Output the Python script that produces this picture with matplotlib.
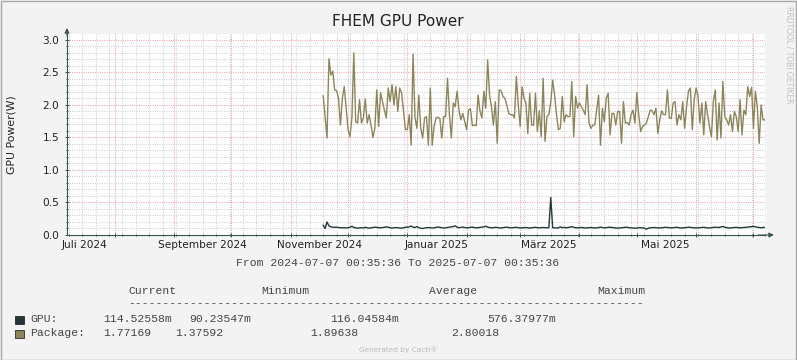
import matplotlib
matplotlib.use("Agg")
import matplotlib.pyplot as plt
import matplotlib.dates as mdates
from matplotlib.ticker import MultipleLocator, FormatStrFormatter
from matplotlib.patches import Rectangle
import pandas as pd

# Zeitraum des Graphen
t_start = pd.Timestamp("2024-07-07 00:35:36")
t_end = pd.Timestamp("2025-07-07 00:35:36")
first_sample = "2024-11-18"

# Package (W), Tageswerte
package_w = [
    2.14, 1.82, 1.49, 2.71, 2.46, 2.52, 2.23, 2.22, 2.10, 1.69, 2.10, 2.28, 1.95, 1.62, 1.51, 1.80,
    2.80, 1.74, 1.72, 2.08, 1.72, 1.80, 2.09, 1.72, 1.85, 1.69, 1.50, 1.64, 2.23, 1.67, 2.19, 2.05,
    1.92, 1.80, 2.26, 2.05, 2.31, 2.00, 2.28, 1.90, 2.26, 2.18, 1.90, 1.62, 1.62, 1.85, 1.38, 2.78,
    1.80, 1.64, 2.15, 1.64, 1.49, 1.80, 1.82, 1.38, 2.26,
    1.38, 1.67, 1.80, 1.81, 1.79, 1.49, 1.82, 1.82, 2.41, 1.85, 1.49, 2.03, 1.97, 2.21, 1.92, 1.77,
    1.87, 1.74, 1.62, 1.92, 1.94, 1.68, 1.69, 1.68, 2.15, 1.90, 1.80, 2.21, 1.95, 2.69, 2.15, 1.97,
    1.69, 2.05, 1.41, 2.23, 2.22, 2.13, 2.10, 2.00, 1.87, 1.85, 1.85, 1.80, 2.44, 2.00, 1.67, 2.28,
    2.10, 2.03, 1.56, 2.18, 1.69, 1.69, 2.18, 1.59, 1.91, 1.51,
    2.41, 1.44, 1.82, 1.85, 2.05, 2.38, 2.15, 1.85, 1.62, 1.64, 2.13, 1.74, 1.85, 1.82, 1.82, 2.36,
    1.51, 2.13, 1.95, 2.03, 1.97, 1.92, 1.85, 2.31, 1.72, 1.64, 1.69, 1.69, 1.92, 2.15, 1.38, 1.95,
    1.74, 2.10, 2.18, 1.54, 1.87, 1.87, 1.69, 1.90, 1.90, 1.41, 2.05, 1.72, 1.73, 1.69, 1.85, 1.92,
    1.72, 2.19, 1.85, 1.59, 1.67, 1.69, 1.72, 1.82, 1.92,
    1.91, 1.85, 1.95, 1.56, 1.77, 1.91, 1.85, 1.85, 2.23, 1.80, 1.79, 2.03, 2.05, 1.69, 1.85, 1.77,
    2.05, 1.64, 1.97, 2.21, 2.26, 1.62, 2.08, 2.26, 2.13, 1.72, 2.03, 1.54, 2.05, 1.85, 1.67, 1.51,
    2.05, 2.23, 1.46, 2.03, 1.49, 2.36, 1.82, 1.77, 1.69, 1.85, 1.59, 1.90, 1.82, 1.59, 2.08, 1.54,
    1.92, 1.85, 2.28, 2.13, 2.27, 1.64, 2.21, 1.97, 1.41, 2.00, 1.77, 1.77,
]

# GPU (W), Tageswerte
gpu_w = [
    0.15, 0.10, 0.20, 0.14, 0.125, 0.12, 0.118, 0.12, 0.115, 0.112, 0.11, 0.112, 0.108, 0.112, 0.118, 0.135, 0.115, 0.11, 0.105, 0.11,
    0.112, 0.108, 0.118, 0.112, 0.105, 0.11, 0.115, 0.12, 0.118, 0.112, 0.11, 0.115, 0.118, 0.125, 0.12, 0.112, 0.108, 0.11, 0.115, 0.112,
    0.11, 0.105, 0.112, 0.118, 0.12, 0.125, 0.138, 0.12, 0.115, 0.13, 0.112, 0.105, 0.10, 0.108, 0.112, 0.115, 0.112, 0.108, 0.11, 0.118,
    0.122, 0.118, 0.112, 0.108, 0.11, 0.115, 0.12, 0.125, 0.13, 0.14, 0.12, 0.112, 0.118, 0.122, 0.115, 0.11, 0.112, 0.118, 0.12, 0.115,
    0.11, 0.112, 0.118, 0.122, 0.125, 0.135, 0.12, 0.115, 0.11, 0.112, 0.118, 0.115, 0.11, 0.108, 0.112, 0.118, 0.12, 0.115, 0.11, 0.112,
    0.115, 0.118, 0.112, 0.108, 0.11, 0.112, 0.115, 0.112, 0.108, 0.11, 0.115, 0.118, 0.112, 0.11, 0.112, 0.115, 0.112, 0.11, 0.112, 0.576,
    0.112, 0.11, 0.108, 0.11, 0.125, 0.112, 0.118, 0.11, 0.115, 0.12, 0.13, 0.118, 0.112, 0.11, 0.112, 0.115, 0.112, 0.108, 0.11, 0.112,
    0.115, 0.11, 0.108, 0.11, 0.115, 0.12, 0.115, 0.11, 0.112, 0.118, 0.12, 0.115, 0.112, 0.11, 0.105, 0.108, 0.112, 0.115, 0.12, 0.118,
    0.112, 0.11, 0.108, 0.105, 0.108, 0.11, 0.112, 0.108, 0.105, 0.0902, 0.105, 0.11, 0.112, 0.115, 0.112, 0.11, 0.108, 0.112, 0.115, 0.118,
    0.115, 0.112, 0.11, 0.112, 0.115, 0.118, 0.112, 0.108, 0.11, 0.112, 0.115, 0.12, 0.118, 0.112, 0.11, 0.108, 0.11, 0.112, 0.115, 0.118,
    0.112, 0.11, 0.108, 0.112, 0.115, 0.12, 0.118, 0.115, 0.125, 0.13, 0.12, 0.112, 0.11, 0.108, 0.112, 0.115, 0.118, 0.112, 0.11, 0.112,
    0.115, 0.118, 0.122, 0.125, 0.128, 0.135, 0.125, 0.12, 0.115, 0.11, 0.118, 0.1145,
]

month_labels = ["Juli 2024", "September 2024", "November 2024", "Januar 2025", "März 2025", "Mai 2025"]
month_label_dates = ["2024-07-16", "2024-09-16", "2024-11-16", "2025-01-16", "2025-03-16", "2025-05-16"]

legend_header = ["Current", "Minimum", "Average", "Maximum"]
gpu_stats = ["114.52558m", "90.23547m", "116.04584m", "576.37977m"]
package_stats = ["1.77169", "1.37592", "1.89638", "2.80018"]

c_gpu = "#23383B"
c_pkg = "#8C855C"
c_axis = "#3A5651"
mono = "Liberation Mono"

W, H = 797, 360
fig = plt.figure(figsize=(W / 100, H / 100), dpi=100, facecolor="#F3F3F3")
ax = fig.add_axes([67 / W, (H - 235) / H, (765 - 67) / W, (235 - 34) / H])
ax.set_facecolor("white")

dates_pkg = pd.date_range(first_sample, periods=len(package_w), freq="D")
dates_gpu = pd.date_range(first_sample, periods=len(gpu_w), freq="D")
ax.plot(dates_pkg, package_w, color=c_pkg, lw=1.0, zorder=3)
ax.plot(dates_gpu, gpu_w, color=c_gpu, lw=1.0, zorder=4)

ax.set_xlim(t_start, t_end)
ax.set_ylim(0, 3.09)

ax.xaxis.set_major_locator(mdates.MonthLocator())
ax.xaxis.set_minor_locator(mdates.WeekdayLocator(byweekday=mdates.MO))
ax.yaxis.set_major_locator(MultipleLocator(0.5))
ax.yaxis.set_minor_locator(MultipleLocator(0.1))
ax.yaxis.set_major_formatter(FormatStrFormatter("%.1f"))
ax.set_xticklabels([])

dot = (0, (1, 1.3))
ax.grid(which="minor", color="#CFCFCF", ls=dot, lw=0.72)
ax.grid(which="major", color="#F7A0A0", ls=dot, lw=0.72)
ax.set_axisbelow(True)

ax.tick_params(which="both", direction="inout", color=c_axis, width=0.7)
ax.tick_params(which="major", length=3)
ax.tick_params(which="minor", length=2)
ax.tick_params(axis="y", labelsize=7.6, pad=4, labelcolor="#222222")
ax.tick_params(axis="x", which="major", labelbottom=False)

for sp in ["top", "right"]:
    ax.spines[sp].set_visible(False)
for sp in ["left", "bottom"]:
    ax.spines[sp].set_color(c_axis)
    ax.spines[sp].set_linewidth(0.8)

arrow = dict(arrowstyle="-|>", color=c_axis, lw=0.8, mutation_scale=7, shrinkA=0, shrinkB=0)
ax.annotate("", xy=(1 + 9 / 698, 0), xytext=(0.99, 0), xycoords="axes fraction",
            arrowprops=arrow, annotation_clip=False)
ax.annotate("", xy=(0, 1 + 6 / 201), xytext=(0, 0.99), xycoords="axes fraction",
            arrowprops=arrow, annotation_clip=False)

for lab, d in zip(month_labels, month_label_dates):
    ax.text(pd.Timestamp(d), -10 / 201, lab, transform=ax.get_xaxis_transform(),
            ha="center", va="center", fontsize=7.6, color="#222222")

ax.set_ylabel("GPU Power(W)", fontsize=7.8, color="#222222", labelpad=19)

fig.text(398 / W, 1 - 22 / H, "FHEM GPU Power", ha="center", va="center", fontsize=11, color="#222222")
fig.text(398 / W, 1 - 263 / H, "From 2024-07-07 00:35:36 To 2025-07-07 00:35:36",
         ha="center", va="center", family=mono, fontsize=8.2, color="#444444")

# Legende
head_x = [128, 261, 429, 597]
for s, x in zip(legend_header, head_x):
    fig.text(x / W, 1 - 291 / H, s, ha="left", va="center", family=mono, fontsize=8.2, color="#444444")
fig.text(128 / W, 1 - 303 / H, "-" * 75, ha="left", va="center", family=mono, fontsize=8.2, color="#444444")

fig.add_artist(Rectangle((15 / W, 1 - 324 / H), 8.5 / W, 8.5 / H, transform=fig.transFigure,
                         facecolor=c_gpu, edgecolor="#111111", lw=0.5))
fig.add_artist(Rectangle((15 / W, 1 - 338 / H), 8.5 / W, 8.5 / H, transform=fig.transFigure,
                         facecolor=c_pkg, edgecolor="#111111", lw=0.5))
fig.text(30 / W, 1 - 319 / H, "GPU:", ha="left", va="center", family=mono, fontsize=8.2, color="#444444")
fig.text(30 / W, 1 - 333 / H, "Package:", ha="left", va="center", family=mono, fontsize=8.2, color="#444444")
gpu_x = [103, 189, 330, 487]
pkg_x = [103, 175, 310, 451]
for s, x in zip(gpu_stats, gpu_x):
    fig.text(x / W, 1 - 319 / H, s, ha="left", va="center", family=mono, fontsize=8.2, color="#444444")
for s, x in zip(package_stats, pkg_x):
    fig.text(x / W, 1 - 333 / H, s, ha="left", va="center", family=mono, fontsize=8.2, color="#444444")

fig.text(398 / W, 1 - 350 / H, "Generated by Cacti®", ha="center", va="center", fontsize=5.3, color="#BBBBBB")
fig.text(789 / W, 1 - 55 / H, "RRDTOOL / TOBI OETIKER", ha="center", va="center", rotation=-90,
         fontsize=5.5, color="#C0C0C0")

fig.add_artist(Rectangle((0.5 / W, 0.5 / H), (W - 1.5) / W, (H - 1.5) / H, transform=fig.transFigure,
                         facecolor="none", edgecolor="#A8A8A8", lw=1.0))

fig.savefig("out.png", dpi=100, facecolor=fig.get_facecolor())
